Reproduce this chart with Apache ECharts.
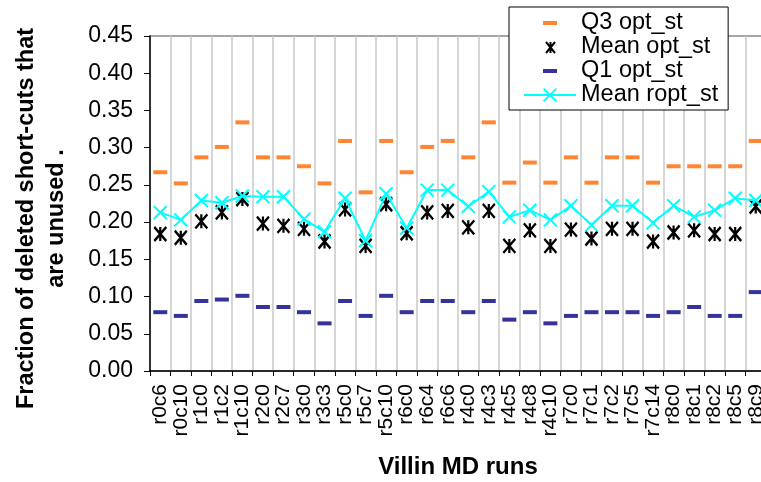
<!DOCTYPE html>
<html>
<head>
<meta charset="utf-8">
<script src="https://cdn.jsdelivr.net/npm/echarts@6/dist/echarts.min.js"></script>
<style>
html,body{margin:0;padding:0;background:#fff;}
#chart{width:761px;height:482px;}
</style>
</head>
<body>
<div id="chart"></div>
<script>
const categories = ['r0c6','r0c10','r1c0','r1c2','r1c10','r2c0','r2c7','r3c0','r3c3','r5c0','r5c7','r5c10','r6c0','r6c4','r6c6','r4c0','r4c3','r4c5','r4c8','r4c10','r7c0','r7c1','r7c2','r7c5','r7c14','r8c0','r8c1','r8c2','r8c5','r8c9'];
const q3OptSt = [0.267,0.252,0.287,0.301,0.334,0.287,0.287,0.275,0.252,0.309,0.240,0.309,0.267,0.301,0.309,0.287,0.334,0.253,0.280,0.253,0.287,0.253,0.287,0.287,0.253,0.275,0.275,0.275,0.275,0.309];
const meanOptSt = [0.184,0.179,0.201,0.213,0.231,0.198,0.195,0.191,0.174,0.217,0.168,0.224,0.185,0.213,0.215,0.193,0.215,0.168,0.189,0.168,0.190,0.178,0.191,0.191,0.174,0.186,0.189,0.184,0.184,0.221];
const q1OptSt = [0.079,0.074,0.094,0.096,0.101,0.086,0.086,0.079,0.064,0.094,0.074,0.101,0.079,0.094,0.094,0.079,0.094,0.069,0.079,0.064,0.074,0.079,0.079,0.079,0.074,0.079,0.086,0.074,0.074,0.106];
const meanRoptSt = [0.213,0.203,0.229,0.226,0.235,0.234,0.234,0.204,0.187,0.232,0.175,0.238,0.192,0.243,0.243,0.221,0.241,0.207,0.216,0.203,0.222,0.196,0.222,0.222,0.199,0.222,0.207,0.216,0.232,0.229];
const yTicks = {min: 0, max: 0.45, interval: 0.05};

const FONT = '"Liberation Sans", Arial, sans-serif';
const ORANGE = '#FF6600', NAVY = '#000080', CYAN = '#00FFFF';
const asteriskPath = 'path://M0,0L10,12M10,0L0,12M5,0L5,12';
const xPath = 'path://M0,0L10,10M10,0L0,10';

const chart = echarts.init(document.getElementById('chart'), null, {renderer: 'canvas'});
chart.setOption({
  animation: false,
  backgroundColor: '#fff',
  grid: {left: 150, top: 36, width: 616, height: 335, show: true, borderColor: '#888', borderWidth: 1.5, backgroundColor: 'transparent', outerBoundsMode: 'none'},
  legend: {
    orient: 'vertical', left: 509, top: 7,
    padding: [4, 10, 3, 14],
    borderColor: '#000', borderWidth: 1, backgroundColor: '#fff',
    itemWidth: 52, itemHeight: 16, itemGap: 0,
    textStyle: {fontFamily: FONT, fontSize: 23.5, color: '#000', lineHeight: 24},
    data: [
      {name: 'Q3 opt_st', icon: 'path://M0,0L0,0M52,16L52,16M19,6L33,6L33,10L19,10Z'},
      {name: 'Mean opt_st', icon: 'path://M0,0L0,0M52,16L52,16M22,3L31,14M31,3L22,14M26.5,3L26.5,14'},
      {name: 'Q1 opt_st', icon: 'path://M0,0L0,0M52,16L52,16M19,6L33,6L33,10L19,10Z'},
      {name: 'Mean ropt_st'}
    ]
  },
  xAxis: {
    type: 'category', data: categories, boundaryGap: true,
    name: 'Villin MD runs', nameLocation: 'middle', nameGap: 84,
    nameTextStyle: {fontFamily: FONT, fontSize: 24, fontWeight: 'bold', color: '#000'},
    axisLine: {show: true, lineStyle: {color: '#000', width: 1.5}},
    axisTick: {show: true, alignWithLabel: false, interval: 0, length: 5, lineStyle: {color: '#000'}},
    axisLabel: {interval: 0, rotate: 90, margin: 13, fontFamily: FONT, fontSize: 21, color: '#000'},
    splitLine: {show: true, interval: 0, lineStyle: {color: '#c8c8c8', width: 1.5}}
  },
  yAxis: {
    type: 'value', min: yTicks.min, max: yTicks.max, interval: yTicks.interval,
    name: 'Fraction of deleted short-cuts that\nare unused .', nameLocation: 'middle', nameGap: 78,
    nameTextStyle: {fontFamily: FONT, fontSize: 23.5, fontWeight: 'bold', color: '#000', lineHeight: 30, align: 'center', padding: [0, 30, 0, 0]},
    axisLine: {show: true, lineStyle: {color: '#000', width: 1.5}},
    axisTick: {show: true, inside: false, length: 6, lineStyle: {color: '#000'}},
    axisLabel: {margin: 17, fontFamily: FONT, fontSize: 23, color: '#000', formatter: v => v.toFixed(2)},
    splitLine: {show: false}
  },
  series: [
    {name: 'Q3 opt_st', type: 'scatter', data: q3OptSt, symbol: 'rect', symbolSize: [14, 4],
     itemStyle: {color: ORANGE, borderWidth: 0}, z: 3},
    {name: 'Mean opt_st', type: 'scatter', data: meanOptSt, symbol: asteriskPath, symbolSize: [12, 14], symbolKeepAspect: false,
     itemStyle: {color: '#000', borderColor: '#000', borderWidth: 2.4, opacity: 1}, z: 3},
    {name: 'Q1 opt_st', type: 'scatter', data: q1OptSt, symbol: 'rect', symbolSize: [14, 4],
     itemStyle: {color: NAVY, borderWidth: 0}, z: 3},
    {name: 'Mean ropt_st', type: 'line', data: meanRoptSt, symbol: xPath, symbolSize: 13, showAllSymbol: true,
     itemStyle: {color: CYAN, borderColor: CYAN, borderWidth: 2},
     lineStyle: {color: CYAN, width: 2}, z: 4}
  ]
});
</script>
</body>
</html>
